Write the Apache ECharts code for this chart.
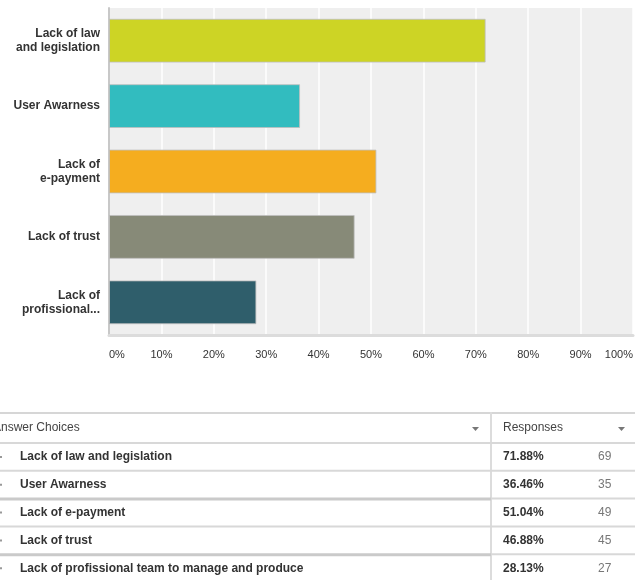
<!DOCTYPE html>
<html>
<head>
<meta charset="utf-8">
<script src="https://cdn.jsdelivr.net/npm/echarts@6/dist/echarts.min.js"></script>
<style>
html,body{margin:0;padding:0;background:#fff;}
#chart{width:643px;height:580px;}
</style>
</head>
<body>
<div id="chart"></div>
<script>
var categories = ['Lack of law\nand legislation', 'User Awarness', 'Lack of\ne-payment', 'Lack of trust', 'Lack of\nprofissional...'];
var answerChoices = ['Lack of law and legislation', 'User Awarness', 'Lack of e-payment', 'Lack of trust', 'Lack of profissional team to manage and produce'];
var percentages = [71.88, 36.46, 51.04, 46.88, 28.13];
var counts = [69, 35, 49, 45, 27];
var barColors = ['#cdd425', '#32bcbf', '#f5ad1f', '#878a78', '#2f5e6b'];
var tableHeaders = ['Answer Choices', 'Responses'];

var FONT = '"Liberation Sans", Arial, sans-serif';
var chart = echarts.init(document.getElementById('chart'), null, {renderer: 'canvas'});

var graphics = [];
// table lines
var rowTop = 443, rowH = 27.8, divX = 491, rightX = 635;
graphics.push({type: 'rect', shape: {x: 0, y: 412, width: rightX, height: 2}, style: {fill: '#d6d6d6'}});
graphics.push({type: 'rect', shape: {x: divX - 1, y: 412, width: 2, height: 170}, style: {fill: '#dcdcdc'}});
graphics.push({type: 'text', x: -7, y: 428, style: {text: tableHeaders[0], font: '12px ' + FONT, fill: '#444', verticalAlign: 'middle'}});
graphics.push({type: 'text', x: 503, y: 428, style: {text: tableHeaders[1], font: '12px ' + FONT, fill: '#444', verticalAlign: 'middle'}});
graphics.push({type: 'polygon', shape: {points: [[472, 427], [479, 427], [475.5, 431]]}, style: {fill: '#777'}});
graphics.push({type: 'polygon', shape: {points: [[618, 427], [625, 427], [621.5, 431]]}, style: {fill: '#777'}});
for (var i = 0; i < answerChoices.length; i++) {
  var ly = rowTop + i * rowH;
  var thick = (i === 2 || i === 4);
  graphics.push({type: 'rect', shape: {x: 0, y: ly - 1, width: divX, height: thick ? 3 : 2}, style: {fill: thick ? '#cacaca' : '#d8d8d8'}});
  graphics.push({type: 'rect', shape: {x: divX, y: ly - 1, width: rightX - divX, height: 2}, style: {fill: '#d8d8d8'}});
  var cy = ly + 14;
  graphics.push({type: 'rect', shape: {x: 0, y: cy - 1, width: 2, height: 2}, style: {fill: '#999'}});
  graphics.push({type: 'text', x: 20, y: cy, style: {text: answerChoices[i], font: 'bold 12px ' + FONT, fill: '#333', verticalAlign: 'middle'}});
  graphics.push({type: 'text', x: 503, y: cy, style: {text: percentages[i].toFixed(2) + '%', font: 'bold 12px ' + FONT, fill: '#333', verticalAlign: 'middle'}});
  graphics.push({type: 'text', x: 598, y: cy, style: {text: String(counts[i]), font: '12px ' + FONT, fill: '#777', verticalAlign: 'middle'}});
}

chart.setOption({
  animation: false,
  backgroundColor: '#fff',
  grid: {left: 109, right: 10, top: 8, height: 327, show: true, backgroundColor: '#efefef', borderWidth: 0, containLabel: false},
  xAxis: {
    type: 'value', min: 0, max: 100, interval: 10,
    axisLine: {show: true, lineStyle: {color: '#dcdcdc', width: 3}},
    axisTick: {show: false},
    splitLine: {show: true, lineStyle: {color: '#ffffff', width: 1.5}},
    axisLabel: {formatter: '{value}%', color: '#333', fontSize: 11, fontFamily: FONT, margin: 14, alignMinLabel: 'left', alignMaxLabel: 'right'}
  },
  yAxis: {
    type: 'category', data: categories, inverse: true,
    axisLine: {show: true, lineStyle: {color: '#c8c8c8', width: 2}},
    axisTick: {show: false},
    splitLine: {show: false},
    axisLabel: {color: '#333', fontSize: 12, fontWeight: 'bold', fontFamily: FONT, lineHeight: 14, margin: 9}
  },
  series: [{
    type: 'bar',
    barWidth: '67%',
    data: percentages.map(function (v, i) {
      return {value: v, itemStyle: {color: barColors[i], borderColor: 'rgba(190,190,190,0.8)', borderWidth: 1}};
    })
  }],
  graphic: graphics
});
</script>
</body>
</html>
